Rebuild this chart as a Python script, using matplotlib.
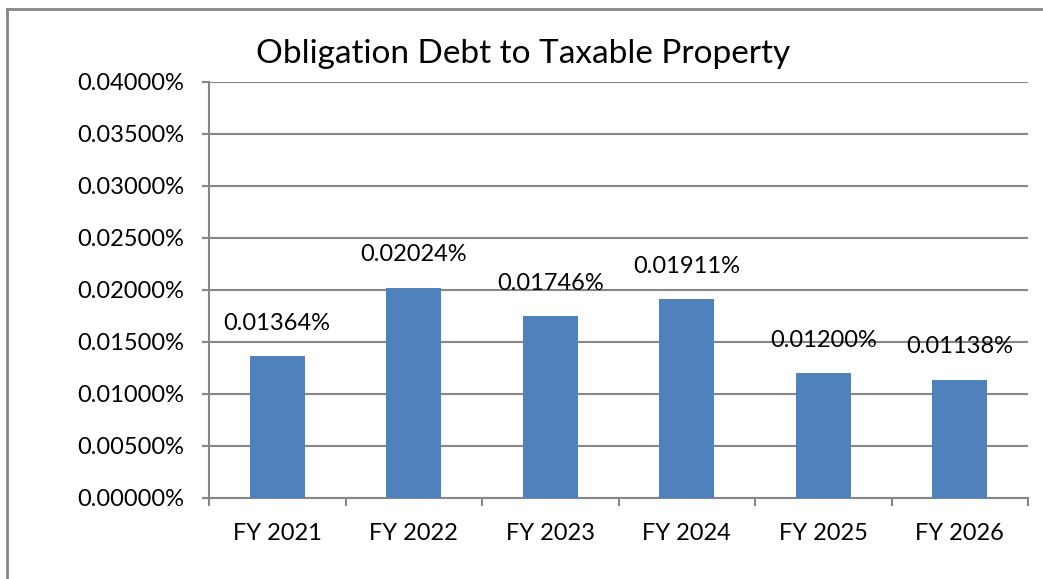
import matplotlib.pyplot as plt
from matplotlib.lines import Line2D
from matplotlib.ticker import FuncFormatter, FixedLocator

# Datos del gráfico
categorias = ["FY 2021", "FY 2022", "FY 2023", "FY 2024", "FY 2025", "FY 2026"]
valores = [0.01364, 0.02024, 0.01746, 0.01911, 0.01200, 0.01138]
etiquetas = ["0.01364%", "0.02024%", "0.01746%", "0.01911%", "0.01200%", "0.01138%"]
y_ticks = [0.0, 0.005, 0.010, 0.015, 0.020, 0.025, 0.030, 0.035, 0.040]

plt.rcParams['font.family'] = ['Lato', 'DejaVu Sans']
gris = '#868686'
azul = '#4f81bd'

fig = plt.figure(figsize=(10.43, 5.79), dpi=100)
ax = fig.add_axes([209/1043, 1 - 498/579, (1028 - 209)/1043, (498 - 82)/579])

x = list(range(len(categorias)))
ax.bar(x, valores, width=0.4, color=azul, zorder=3)

# etiquetas de datos encima de cada barra
for xi, v, txt in zip(x, valores, etiquetas):
    ax.annotate(txt, (xi, v), xytext=(0, 19), textcoords='offset points',
                ha='center', va='baseline', fontsize=17)

ax.set_xlim(-0.5, len(categorias) - 0.5)
ax.set_ylim(0, 0.04)
ax.set_yticks(y_ticks)
ax.yaxis.set_major_formatter(FuncFormatter(lambda v, p: f"{v:.5f}%"))
ax.grid(axis='y', color=gris, linewidth=1.5, zorder=0)

# ticks del eje x entre categorías, etiquetas al centro
ax.xaxis.set_major_locator(FixedLocator([i - 0.5 for i in range(len(categorias) + 1)]))
ax.xaxis.set_major_formatter(FuncFormatter(lambda v, p: ""))
ax.set_xticks(x, categorias, minor=True)
ax.tick_params(axis='x', which='minor', length=0, pad=18, labelsize=17)
ax.tick_params(axis='x', which='major', length=6, width=1.5, color=gris)
ax.tick_params(axis='y', length=5, width=1.5, color=gris, labelsize=17, pad=13)

for lado in ['top', 'right']:
    ax.spines[lado].set_visible(False)
for lado in ['left', 'bottom']:
    ax.spines[lado].set_color(gris)
    ax.spines[lado].set_linewidth(1.5)

fig.text(523/1043, 1 - 63/579, "Obligation Debt to Taxable Property",
         fontsize=24, ha='center', va='baseline')

# borde exterior del gráfico (solo izquierda y arriba visibles)
fig.add_artist(Line2D([7/1043, 7/1043], [0, 1 - 9/579], color=gris, linewidth=2,
                      transform=fig.transFigure))
fig.add_artist(Line2D([7/1043, 1], [1 - 9/579, 1 - 9/579], color=gris, linewidth=2,
                      transform=fig.transFigure))

fig.savefig("out.png", dpi=100)
